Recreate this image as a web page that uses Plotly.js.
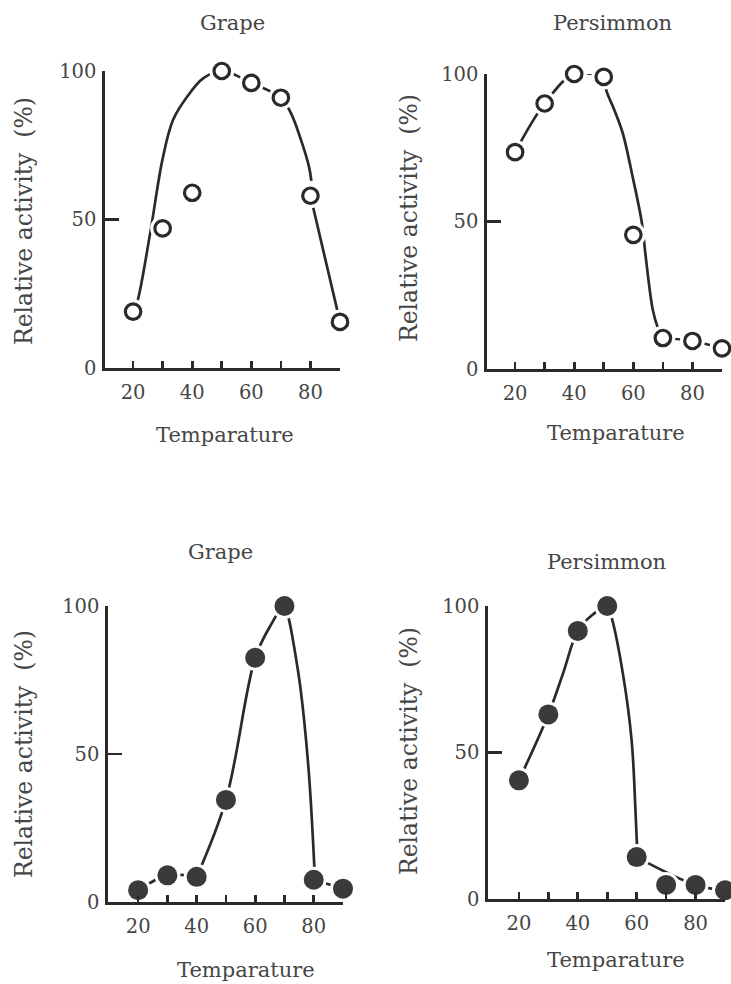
<!DOCTYPE html>
<html>
<head>
<meta charset="utf-8">
<script src="https://cdn.plot.ly/plotly-3.0.1.min.js"></script>
<style>html,body{margin:0;padding:0;background:#fff;}#chart{width:731px;height:984px;}</style>
</head>
<body>
<div id="chart"></div>
<script>
// ---- data ----
var temps = [20, 30, 40, 50, 60, 70, 80, 90];
var xTickVals = [20, 30, 40, 50, 60, 70, 80, 90];
var xTickText = ['20', '', '40', '', '60', '', '80', ''];
var yTickVals = [0, 50, 100];
var yTickText = ['0', '50', '100'];

var panelTitles = ['Grape', 'Persimmon', 'Grape', 'Persimmon'];
var xTitle = 'Temparature';
var yTitle = 'Relative activity\u00a0\u00a0(%)';

// open circles (top row)
var grapeOpen = [19, 47, 59, 100, 96, 91, 58, 15.5];
var persOpen = [73.5, 90, 100, 99, 45.5, 10.5, 9.5, 7];
// filled circles (bottom row)
var grapeFilled = [4, 9, 8.5, 34.5, 82.5, 100, 7.5, 4.5];
var persFilled = [40.5, 63, 91.5, 100, 14.3, 4.8, 4.8, 3];

// hand-drawn fitted curves (null = pen lifted)
var grapeOpenCurveT = [20, 21.4, 25.8, 29.9, 33.5, 38.4, 43.8, 50, 60, 70, 73.4, 76.8, 79.5, 80.3, null, 80, 90];
var grapeOpenCurveV = [19, 22.2, 45.5, 70, 83.5, 91.5, 97.6, 100, 96, 91, 85.8, 76.8, 67.8, 63, null, 58, 15.5];

var persOpenCurveT = [20, 30, 40, 50, null, 50, 51, 53.5, 56.4, 59.8, 62.9, 64.2, 66.6, 68.3, 70, null, 70, 80, 90];
var persOpenCurveV = [73.5, 90, 100, 99, null, 99, 94, 88, 80, 65, 49.5, 38, 20, 14, 10.5, null, 10.5, 9.5, 7];

var grapeFilledCurveT = [20, 30, 40, null, 40, 50, 60, 65, 70, 71.4, 73.5, 75.5, 78.3, 80.3, null, 80, 90];
var grapeFilledCurveV = [4, 9, 8.5, null, 8.5, 34.5, 82.5, 93, 100, 96, 85, 72, 44, 10, null, 7.5, 4.5];

var persFilledCurveT = [20, 30, 35, 40, 45, 50, 51.5, 55.3, 58.3, 59.6, 60.2, null, 60, 80, 90];
var persFilledCurveV = [40.5, 63, 77, 91.5, 97, 100, 96, 77, 54, 30, 16, null, 14.3, 4.8, 3];

// ---- style ----
var INK = '#2a2a2a';
var TXT = '#464646';
var FONT = 'DejaVu Serif, serif';
var W = 731, H = 984;

function curveTrace(t, v, xa, ya) {
  return {x: t, y: v, xaxis: xa, yaxis: ya, mode: 'lines', type: 'scatter',
    connectgaps: false,
    line: {color: INK, width: 2.7, shape: 'spline', smoothing: 1},
    hoverinfo: 'skip', showlegend: false};
}
function haloTrace(t, v, xa, ya, size) {
  return {x: t, y: v, xaxis: xa, yaxis: ya, mode: 'markers', type: 'scatter', cliponaxis: false,
    marker: {color: '#ffffff', size: size, line: {width: 0}},
    hoverinfo: 'skip', showlegend: false};
}
function openTrace(t, v, xa, ya) {
  return {x: t, y: v, xaxis: xa, yaxis: ya, mode: 'markers', type: 'scatter', cliponaxis: false,
    marker: {color: '#ffffff', size: 15.5, line: {color: INK, width: 3.2}},
    showlegend: false};
}
function filledTrace(t, v, xa, ya) {
  return {x: t, y: v, xaxis: xa, yaxis: ya, mode: 'markers', type: 'scatter', cliponaxis: false,
    marker: {color: '#3a3a3a', size: 20, line: {width: 0}},
    showlegend: false};
}

var data = [
  curveTrace(grapeOpenCurveT, grapeOpenCurveV, 'x', 'y'),
  haloTrace(temps, grapeOpen, 'x', 'y', 25),
  openTrace(temps, grapeOpen, 'x', 'y'),

  curveTrace(persOpenCurveT, persOpenCurveV, 'x2', 'y2'),
  haloTrace(temps, persOpen, 'x2', 'y2', 25),
  openTrace(temps, persOpen, 'x2', 'y2'),

  curveTrace(grapeFilledCurveT, grapeFilledCurveV, 'x3', 'y3'),
  haloTrace(temps, grapeFilled, 'x3', 'y3', 26),
  filledTrace(temps, grapeFilled, 'x3', 'y3'),

  curveTrace(persFilledCurveT, persFilledCurveV, 'x4', 'y4'),
  haloTrace(temps, persFilled, 'x4', 'y4', 26),
  filledTrace(temps, persFilled, 'x4', 'y4')
];

function xAxis(dom, range, anchor) {
  return {domain: dom, range: range, anchor: anchor, showgrid: false, zeroline: false,
    showline: true, linecolor: INK, linewidth: 2.7, ticks: 'inside', ticklen: 7,
    tickwidth: 2.7, tickcolor: INK, tickvals: xTickVals, ticktext: xTickText,
    tickfont: {family: FONT, size: 19.5, color: TXT}, ticklabelstandoff: 5, fixedrange: true};
}
function yAxis(dom, anchor) {
  return {domain: dom, range: [0, 100], anchor: anchor, showgrid: false, zeroline: false,
    showline: true, linecolor: INK, linewidth: 2.7, ticks: 'inside', ticklen: 14,
    tickwidth: 2.7, tickcolor: INK, tickvals: yTickVals, ticktext: yTickText,
    tickfont: {family: FONT, size: 19.5, color: TXT}, ticklabelstandoff: 2, fixedrange: true};
}
function px(v) { return v / W; }
function py(v) { return 1 - v / H; }

function ann(text, x, y, angle, size) {
  return {text: text, xref: 'paper', yref: 'paper', x: px(x), y: py(y),
    xanchor: 'center', yanchor: 'middle', showarrow: false,
    font: {family: FONT, size: size || 21, color: TXT},
    textangle: angle || 0};
}

var layout = {
  width: W, height: H, margin: {l: 0, r: 0, t: 0, b: 0},
  paper_bgcolor: '#ffffff', plot_bgcolor: 'rgba(0,0,0,0)', showlegend: false,
  xaxis: xAxis([px(105), px(340)], [10.5, 90], 'y'),
  yaxis: yAxis([py(368), py(71)], 'x'),
  xaxis2: xAxis([px(487), px(722)], [10.5, 90], 'y2'),
  yaxis2: yAxis([py(369), py(74)], 'x2'),
  xaxis3: xAxis([px(108), px(343)], [9.7, 90], 'y3'),
  yaxis3: yAxis([py(902), py(606)], 'x3'),
  xaxis4: xAxis([px(488), px(725)], [9.5, 90], 'y4'),
  yaxis4: yAxis([py(899), py(606)], 'x4'),
  annotations: [
    ann(panelTitles[0], 232, 23),
    ann(panelTitles[1], 612, 23),
    ann(panelTitles[2], 220, 552),
    ann(panelTitles[3], 606, 562),
    ann(xTitle, 225, 435),
    ann(xTitle, 616, 433),
    ann(xTitle, 246, 970),
    ann(xTitle, 616, 960),
    ann(yTitle, 24, 221, -90, 23.5),
    ann(yTitle, 409, 218, -90, 23.5),
    ann(yTitle, 24, 754, -90, 23.5),
    ann(yTitle, 409, 751, -90, 23.5)
  ]
};

Plotly.newPlot('chart', data, layout, {displayModeBar: false, staticPlot: true});
</script>
</body>
</html>
